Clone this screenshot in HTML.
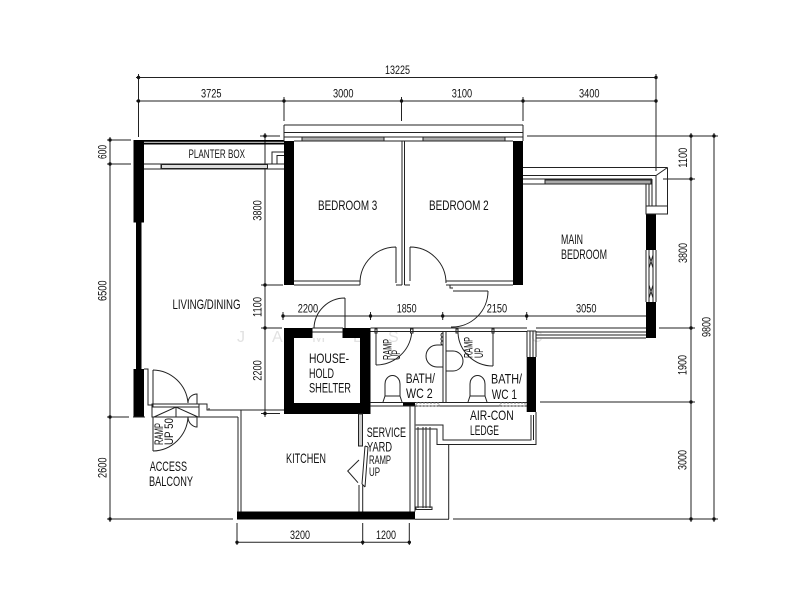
<!DOCTYPE html>
<html><head><meta charset="utf-8"><style>
html,body{margin:0;padding:0;background:#fff}
svg{display:block;filter:blur(0.35px)}
text{font-family:"Liberation Sans",sans-serif;fill:#111;stroke:none}
.d{font-size:11.5px}.l{font-size:14px}.s{font-size:11.5px}.p{font-size:12px}
</style></head><body>
<svg width="800" height="589" viewBox="0 0 800 589" xmlns="http://www.w3.org/2000/svg">
<rect width="800" height="589" fill="#fff"/>
<!-- watermark -->
<g>
<text x="237" y="342" style="fill:#e2e2e2;font-size:16px">J</text><text x="272" y="342" style="fill:#e2e2e2;font-size:16px">A</text><text x="312" y="342" style="fill:#e2e2e2;font-size:16px">M</text><text x="353" y="342" style="fill:#e2e2e2;font-size:16px">E</text><text x="388" y="342" style="fill:#e2e2e2;font-size:16px">S</text><text x="531" y="342" style="fill:#e2e2e2;font-size:16px">C</text>
</g>
<!-- dimensions -->
<g stroke="#222" stroke-width="1" fill="none">
<path d="M138.500 74V137M136 77.500H656M656 74V171M136 101H656M284 97V121M401.500 97V121M523 97V121"/>
<path d="M691 133V522M714 133V522M527 136H718M663 179H695M659 328H695M540 402H695M453 519H718"/>
<path d="M110 137V522M107 140H131M107 164H131M107 417H129M107 519H233"/>
<path d="M265 133V417M260 136H280M261 285H283M261 328H282M261 413.500H280"/>
<path d="M284 316H646M283 312V320M370.500 312V320M442.700 312V320M526.700 312V320"/>
<path d="M237 523V545M362.700 523V545M409.300 523V545M237 542.300H411"/>
</g>
<g fill="#111">
<circle cx="138.500" cy="77.500" r="1.700"/><circle cx="656" cy="77.500" r="1.700"/><circle cx="138.500" cy="101" r="1.700"/><circle cx="284" cy="101" r="1.700"/><circle cx="401.500" cy="101" r="1.700"/><circle cx="523" cy="101" r="1.700"/><circle cx="656" cy="101" r="1.700"/>
<circle cx="691" cy="136" r="1.700"/><circle cx="714" cy="136" r="1.700"/><circle cx="691" cy="179" r="1.700"/><circle cx="691" cy="328" r="1.700"/><circle cx="691" cy="402" r="1.700"/><circle cx="691" cy="519" r="1.700"/><circle cx="714" cy="519" r="1.700"/>
<circle cx="110" cy="140" r="1.700"/><circle cx="110" cy="164" r="1.700"/><circle cx="110" cy="417" r="1.700"/><circle cx="110" cy="519" r="1.700"/>
<circle cx="265" cy="136" r="1.700"/><circle cx="265" cy="285" r="1.700"/><circle cx="265" cy="328" r="1.700"/><circle cx="265" cy="413.500" r="1.700"/>
<circle cx="283" cy="316" r="1.700"/><circle cx="370.500" cy="316" r="1.700"/><circle cx="442.700" cy="316" r="1.700"/><circle cx="526.700" cy="316" r="1.700"/>
<circle cx="237" cy="542.300" r="1.700"/><circle cx="362.700" cy="542.300" r="1.700"/><circle cx="409.300" cy="542.300" r="1.700"/>
</g>
<!-- solid walls -->
<g fill="#000">
<rect x="133.500" y="140" width="10.500" height="82.500"/>
<rect x="136" y="222" width="5.500" height="147"/>
<rect x="133.500" y="369" width="10.500" height="48"/>
<rect x="284" y="141" width="10" height="144"/>
<rect x="513" y="141" width="10" height="144"/>
<rect x="646" y="214" width="10" height="36"/>
<rect x="646" y="302" width="10" height="36"/>
<rect x="237" y="511.500" width="178" height="8"/>
<rect x="526.700" y="357" width="9.300" height="55"/>
<rect x="403" y="402.500" width="12" height="3.500"/>
<rect x="144" y="140" width="140" height="1.800"/>
<rect x="144" y="142.700" width="140" height="1.800"/>
<path fill-rule="evenodd" d="M284 328H370.500V414H284ZM294 338V403H360V338Z"/>
<rect x="312.500" y="328" width="30" height="10" fill="#fff"/>
<rect x="343" y="328" width="10" height="10"/>
</g>
<!-- outlines -->
<g stroke="#222" stroke-width="1" fill="none">
<path d="M312.500 328H343M312.500 332H343"/>
<path d="M284 125H523M284 132.500H523M284 125V141M523 125V141M284 137H302M294 141H513M384 137H423M505 137H523"/>
<rect x="302" y="137" width="82" height="4" fill="#aaa"/><rect x="423" y="137" width="82" height="4" fill="#aaa"/>
<path d="M144 164H284M144 169H284M161 164V169M267 164V169M272 164V152H284M277 164V155.500H284"/>
<rect x="161.500" y="164.500" width="106" height="4" fill="#ddd"/>
<path d="M294 281H360M294 285H360M360 281V285M396 283V247M360 283A36 36 0 0 1 396 247M396 285H402"/>
<path d="M402 141V285M404.500 141V285M410 247V281M410 247A36 36 0 0 1 446 283M404.500 285H410M446 281H513M446 285H513"/>
<path d="M450 285V288H453M453 285H488M453 291H488M451 327A36 36 0 0 0 488 291"/>
<path d="M523 167.500H667.500M523 175.500H656M523 179H652M523 184H646M667.500 167.500V214M656 175.500L667.500 167.500M652 179V206M656 175.500V206M646 184V206M649 184V206M646 206H667.500V214H646Z"/>
<rect x="545" y="180" width="106" height="4" fill="#aaa"/>
<path d="M646 250V302M656 250V302M649 250V302M653 250V302M649 255L653 268M653 255L649 268M649 285L653 298M653 285L649 298"/>
<path d="M536 328H646M536 332H646M536 335H646M536 338H646"/>
<path d="M345 298V328M314 328A31 31 0 0 1 345 298"/>
<path d="M370.500 328H527M370.500 331.500H527M527 331V357M536 331V357M530 331V357M533 331V357M527 331H536"/>
<path d="M443 331V403M446 331V403M376 333V365M376 365A36 36 0 0 0 411.700 333M375 329H377V333H375ZM410.500 329H413V333H410.500ZM493 333V366M458 333A35 35 0 0 0 493 366M456 329H458V333H456ZM492 329H494V333H492Z"/>
<path d="M443 345H437A11 11 0 0 0 437 367H443M446 351H453A10 10 0 0 1 453 371H446"/>
<path d="M443 333A2 2 0 0 0 443 337A2 2 0 0 0 443 341A2 2 0 0 0 443 345"/>
<path d="M383 402L385 396V384A7.500 8.500 0 0 1 400 384V396L402 402M385 396H400M468 402L470 396V384A7.500 8.500 0 0 1 485 384V396L487 402M470 396H485"/>
<path d="M370 402.500H527M370 406H527"/>
<rect x="416" y="403" width="23" height="3" stroke="#777" stroke-dasharray="2 1.500"/><rect x="500" y="403" width="25" height="3" stroke="#777" stroke-dasharray="2 1.500"/>
<path d="M415.700 425H443V440H531V415M533.500 415V440M415.700 429H437V444.500H536V412"/>
<path d="M418 427V508M423 427V508M426 427V508M430 427V508M416 507H432V509.500H416Z"/>
<path d="M448.700 444.500V519M415 519.300H449"/>
<path d="M410 406V511.500M415 406V511.500"/>
<rect x="358.500" y="414" width="4" height="32" fill="#ccc"/>
<path d="M359 485V511.500M362.700 485V511.500M359 460L347.700 471L358 482.700M365 446L362 484M368 447L365 487M365 446L368 447M362 484L365 487"/>
<path d="M241 410V511.500M238 417V511.500M199 417H238M145 417H133"/>
<path d="M144 369H148V405H152M153 370V407M153 370A36 36 0 0 1 188 403M153 451V417M153 451A36 36 0 0 0 188 417"/>
<path d="M152 404H199V417H152ZM152 407H199M154 417L176 407L198 417M176 407V417M197 404H207V410H284M209 408V410"/>
<path d="M188 403C188 396 194 394 197 394V404M188 417C188 424 194 427 197 427V417"/>
</g>
<!-- dimension labels -->
<g>
<text class="d" x="385" y="74" textLength="25" lengthAdjust="spacingAndGlyphs">13225</text>
<text class="d" x="201" y="97.700" textLength="20.500" lengthAdjust="spacingAndGlyphs">3725</text>
<text class="d" x="333" y="97.700" textLength="20.500" lengthAdjust="spacingAndGlyphs">3000</text>
<text class="d" x="451.700" y="97.700" textLength="20.500" lengthAdjust="spacingAndGlyphs">3100</text>
<text class="d" x="579" y="97.700" textLength="20.500" lengthAdjust="spacingAndGlyphs">3400</text>
<text class="d" x="297.700" y="312.700" textLength="20.500" lengthAdjust="spacingAndGlyphs">2200</text>
<text class="d" x="396.700" y="312.700" textLength="20" lengthAdjust="spacingAndGlyphs">1850</text>
<text class="d" x="486.700" y="312.700" textLength="20.500" lengthAdjust="spacingAndGlyphs">2150</text>
<text class="d" x="576" y="312.700" textLength="20.500" lengthAdjust="spacingAndGlyphs">3050</text>
<text class="d" x="290" y="539" textLength="20" lengthAdjust="spacingAndGlyphs">3200</text>
<text class="d" x="376" y="539" textLength="20" lengthAdjust="spacingAndGlyphs">1200</text>
<text class="d" transform="translate(106.700 159) rotate(-90)" textLength="14" lengthAdjust="spacingAndGlyphs">600</text>
<text class="d" transform="translate(106.700 301) rotate(-90)" textLength="20.500" lengthAdjust="spacingAndGlyphs">6500</text>
<text class="d" transform="translate(106.700 478) rotate(-90)" textLength="20.500" lengthAdjust="spacingAndGlyphs">2600</text>
<text class="d" transform="translate(261.700 220.700) rotate(-90)" textLength="20.500" lengthAdjust="spacingAndGlyphs">3800</text>
<text class="d" transform="translate(261.700 317) rotate(-90)" textLength="20" lengthAdjust="spacingAndGlyphs">1100</text>
<text class="d" transform="translate(261.700 380.700) rotate(-90)" textLength="20.500" lengthAdjust="spacingAndGlyphs">2200</text>
<text class="d" transform="translate(687 167.700) rotate(-90)" textLength="20" lengthAdjust="spacingAndGlyphs">1100</text>
<text class="d" transform="translate(687 263) rotate(-90)" textLength="20" lengthAdjust="spacingAndGlyphs">3800</text>
<text class="d" transform="translate(686.700 375) rotate(-90)" textLength="20" lengthAdjust="spacingAndGlyphs">1900</text>
<text class="d" transform="translate(686.700 470) rotate(-90)" textLength="20" lengthAdjust="spacingAndGlyphs">3000</text>
<text class="d" transform="translate(710.700 337) rotate(-90)" textLength="20" lengthAdjust="spacingAndGlyphs">9800</text>
</g>
<!-- room labels -->
<g>
<text class="l" x="318" y="210" textLength="59.300" lengthAdjust="spacingAndGlyphs">BEDROOM 3</text>
<text class="l" x="429" y="210" textLength="59.700" lengthAdjust="spacingAndGlyphs">BEDROOM 2</text>
<text class="l" x="561" y="244" textLength="22" lengthAdjust="spacingAndGlyphs">MAIN</text>
<text class="l" x="561" y="259" textLength="46" lengthAdjust="spacingAndGlyphs">BEDROOM</text>
<text class="p" x="188.500" y="158" textLength="56.500" lengthAdjust="spacingAndGlyphs">PLANTER BOX</text>
<text class="l" x="172.500" y="309" textLength="68" lengthAdjust="spacingAndGlyphs">LIVING/DINING</text>
<text class="l" x="309" y="363" textLength="40" lengthAdjust="spacingAndGlyphs">HOUSE-</text>
<text class="l" x="309" y="378" textLength="25" lengthAdjust="spacingAndGlyphs">HOLD</text>
<text class="l" x="309" y="392.700" textLength="42" lengthAdjust="spacingAndGlyphs">SHELTER</text>
<text class="l" x="405.700" y="383" textLength="29.300" lengthAdjust="spacingAndGlyphs">BATH/</text>
<text class="l" x="406" y="398" textLength="26.700" lengthAdjust="spacingAndGlyphs">WC 2</text>
<text class="l" x="491" y="383.700" textLength="31" lengthAdjust="spacingAndGlyphs">BATH/</text>
<text class="l" x="491.700" y="399" textLength="25.300" lengthAdjust="spacingAndGlyphs">WC 1</text>
<text class="l" x="470" y="420" textLength="43.700" lengthAdjust="spacingAndGlyphs">AIR-CON</text>
<text class="l" x="470" y="435" textLength="29" lengthAdjust="spacingAndGlyphs">LEDGE</text>
<text class="l" x="366.700" y="437" textLength="39.300" lengthAdjust="spacingAndGlyphs">SERVICE</text>
<text class="l" x="367" y="451.700" textLength="25" lengthAdjust="spacingAndGlyphs">YARD</text>
<text class="s" x="369" y="464" textLength="22" lengthAdjust="spacingAndGlyphs">RAMP</text>
<text class="s" x="369" y="476" textLength="11" lengthAdjust="spacingAndGlyphs">UP</text>
<text class="l" x="286" y="463" textLength="40" lengthAdjust="spacingAndGlyphs">KITCHEN</text>
<text class="l" x="149.700" y="471" textLength="37.300" lengthAdjust="spacingAndGlyphs">ACCESS</text>
<text class="l" x="149" y="486" textLength="44" lengthAdjust="spacingAndGlyphs">BALCONY</text>
<text class="s" transform="translate(163 445) rotate(-90)" textLength="22" lengthAdjust="spacingAndGlyphs">RAMP</text>
<text class="s" transform="translate(173 445) rotate(-90)" textLength="27" lengthAdjust="spacingAndGlyphs">UP 50</text>
<text class="s" transform="translate(391.700 360) rotate(-90)" textLength="21" lengthAdjust="spacingAndGlyphs">RAMP</text>
<text class="s" transform="translate(400 360) rotate(-90)" textLength="10" lengthAdjust="spacingAndGlyphs">UP</text>
<text class="s" transform="translate(472.700 358) rotate(-90)" textLength="21" lengthAdjust="spacingAndGlyphs">RAMP</text>
<text class="s" transform="translate(483 358) rotate(-90)" textLength="10" lengthAdjust="spacingAndGlyphs">UP</text>
</g>
</svg>
</body></html>
